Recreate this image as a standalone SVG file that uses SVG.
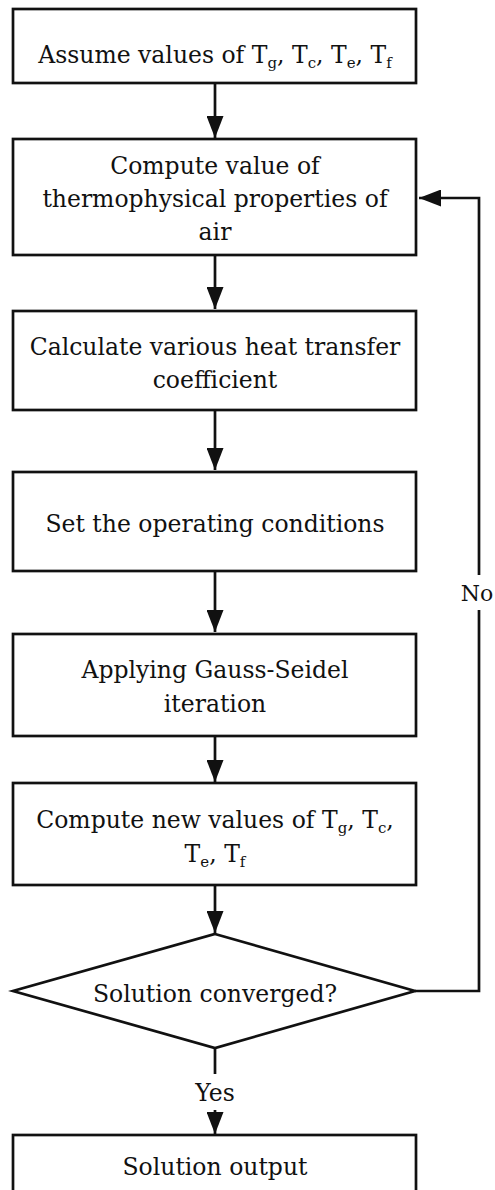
<svg xmlns="http://www.w3.org/2000/svg" width="495" height="1190" viewBox="0 0 495 1190">
<style>
.box{fill:#fff;stroke:#111;stroke-width:2.7}
.t{font-family:"DejaVu Serif","Liberation Serif",serif;font-size:23.5px;fill:#111;text-anchor:middle}
.s{font-size:15px}
.ln{fill:none;stroke:#111;stroke-width:2.7}
</style>
<defs>
<marker id="ah" markerUnits="userSpaceOnUse" markerWidth="23" markerHeight="17" refX="22" refY="8.5" orient="auto" viewBox="0 0 23 17">
<path d="M0,0 L22,8.5 L0,17 z" fill="#111"/>
</marker>
</defs>
<rect width="495" height="1190" fill="#fff"/>
<g id="connectors">
<line class="ln" x1="215" y1="83" x2="215" y2="138" marker-end="url(#ah)"/>
<line class="ln" x1="215" y1="255" x2="215" y2="309" marker-end="url(#ah)"/>
<line class="ln" x1="215" y1="410" x2="215" y2="470" marker-end="url(#ah)"/>
<line class="ln" x1="215" y1="571" x2="215" y2="632" marker-end="url(#ah)"/>
<line class="ln" x1="215" y1="736" x2="215" y2="782" marker-end="url(#ah)"/>
<line class="ln" x1="215" y1="885" x2="215" y2="933" marker-end="url(#ah)"/>
<line class="ln" x1="215" y1="1048" x2="215" y2="1074"/>
<line class="ln" x1="215" y1="1110" x2="215" y2="1134" marker-end="url(#ah)"/>
<polyline class="ln" points="415,991 479,991 479,610"/>
<polyline class="ln" points="479,575 479,198 419,198" marker-end="url(#ah)"/>
<text class="t" x="477" y="601" style="font-size:22px">No</text>
<text class="t" x="215" y="1101">Yes</text>
</g>
<g id="n1">
<rect class="box" x="13" y="9" width="403" height="74"/>
<text class="t" x="215" y="63">Assume values of T<tspan class="s" dy="5">g</tspan><tspan dy="-5">, T</tspan><tspan class="s" dy="5">c</tspan><tspan dy="-5">, T</tspan><tspan class="s" dy="5">e</tspan><tspan dy="-5">, T</tspan><tspan class="s" dy="5">f</tspan></text>
</g>
<g id="n2">
<rect class="box" x="13" y="139" width="403" height="116"/>
<text class="t" x="215" y="174">Compute value of</text>
<text class="t" x="215" y="207">thermophysical properties of</text>
<text class="t" x="215" y="240">air</text>
</g>
<g id="n3">
<rect class="box" x="13" y="311" width="403" height="99"/>
<text class="t" x="215" y="355">Calculate various heat transfer</text>
<text class="t" x="215" y="388">coefficient</text>
</g>
<g id="n4">
<rect class="box" x="13" y="472" width="403" height="99"/>
<text class="t" x="215" y="532">Set the operating conditions</text>
</g>
<g id="n5">
<rect class="box" x="13" y="634" width="403" height="102"/>
<text class="t" x="215" y="678">Applying Gauss-Seidel</text>
<text class="t" x="215" y="712">iteration</text>
</g>
<g id="n6">
<rect class="box" x="13" y="783" width="403" height="102"/>
<text class="t" x="215" y="828">Compute new values of T<tspan class="s" dy="5">g</tspan><tspan dy="-5">, T</tspan><tspan class="s" dy="5">c</tspan><tspan dy="-5">,</tspan></text>
<text class="t" x="215" y="862">T<tspan class="s" dy="5">e</tspan><tspan dy="-5">, T</tspan><tspan class="s" dy="5">f</tspan></text>
</g>
<g id="n7">
<polygon class="box" points="215,934 415,991 215,1048 13,991"/>
<text class="t" x="215" y="1002">Solution converged?</text>
</g>
<g id="n8">
<rect class="box" x="13" y="1135" width="403" height="70"/>
<text class="t" x="215" y="1175">Solution output</text>
</g>
</svg>
